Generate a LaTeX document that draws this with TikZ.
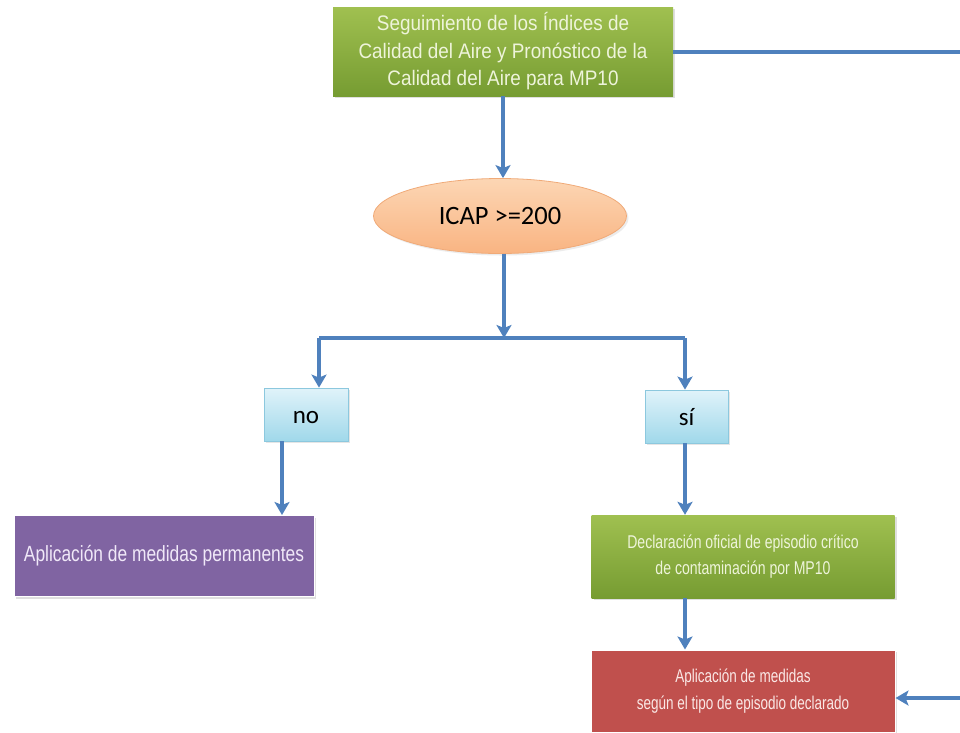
\documentclass[tikz,border=0pt]{standalone}
\usepackage{fontspec}
\setmainfont{Liberation Sans}
\newfontfamily\carlitofont{Carlito}
\newfontfamily\narrowA[FakeStretch=0.9]{Liberation Sans}
\newfontfamily\narrowB[FakeStretch=0.79]{Liberation Sans}
\newfontfamily\narrowC[FakeStretch=0.76]{Liberation Sans}
\newfontfamily\narrowD[FakeStretch=0.73]{Liberation Sans}
\usetikzlibrary{arrows.meta,shapes.geometric,shadows,calc}
\definecolor{arrblue}{RGB}{79,129,189}
\definecolor{gtop}{RGB}{160,192,80}
\definecolor{gbot}{RGB}{118,156,50}
\definecolor{gtext}{RGB}{238,244,218}
\definecolor{purp}{RGB}{128,100,162}
\definecolor{ptext}{RGB}{240,232,248}
\definecolor{redb}{RGB}{192,80,77}
\definecolor{rtext}{RGB}{250,232,230}
\definecolor{btop}{RGB}{224,243,250}
\definecolor{bbot}{RGB}{160,216,234}
\definecolor{bline}{RGB}{140,200,222}
\definecolor{etop}{RGB}{252,214,180}
\definecolor{ebot}{RGB}{249,180,130}
\definecolor{eline}{RGB}{240,170,120}
\tikzset{
  x=1pt,y=-1pt,
  arr/.style={draw=arrblue,line width=3.6pt,-{Stealth[length=13pt,width=15pt,inset=3pt]}},
  ln/.style={draw=arrblue,line width=3.6pt},
  greenbox/.style={rectangle,top color=gtop,bottom color=gbot,draw=none,text=gtext,align=center,
    inner sep=0pt,drop shadow={opacity=0.25,shadow xshift=2pt,shadow yshift=-2pt}},
  bluebox/.style={rectangle,top color=btop,bottom color=bbot,draw=bline,line width=0.8pt,
    minimum width=84pt,minimum height=53pt,font=\carlitofont\fontsize{25}{28}\selectfont,
    text height=17pt,text depth=0pt,
    drop shadow={opacity=0.2,shadow xshift=2pt,shadow yshift=-2pt}},
  flatbox/.style={rectangle,draw=white,line width=1pt,align=center,inner sep=0pt,
    drop shadow={opacity=0.25,shadow xshift=2pt,shadow yshift=-2pt}}
}
\begin{document}
\begin{tikzpicture}
\useasboundingbox (0,0) rectangle (960,732);
\clip (0,0) rectangle (960,732);
\fill[white] (0,0) rectangle (960,732);

\node[greenbox,minimum width=340pt,minimum height=89pt,
  font=\narrowA\fontsize{21}{27.5}\selectfont] (top) at (503,51.5)
  {Seguimiento de los Índices de\\Calidad del Aire y Pronóstico de la\\Calidad del Aire para MP10};

\node[ellipse,top color=etop,bottom color=ebot,draw=eline,line width=0.8pt,
  minimum width=253pt,minimum height=75pt,inner sep=0pt,
  font=\carlitofont\fontsize{26.5}{30}\selectfont,
  drop shadow={opacity=0.15,shadow xshift=2pt,shadow yshift=-2pt}] (ell) at (500,216) {ICAP >=200};

\node[bluebox] (no) at (306,414.5) {no};
\node[bluebox,minimum width=83pt] (si) at (686.5,416.5) {sí};

\node[flatbox,fill=purp,text=ptext,minimum width=300pt,minimum height=81pt,
  font=\narrowB\fontsize{22}{26}\selectfont] (perm) at (164,556) {Aplicación de medidas permanentes};

\node[greenbox,minimum width=303pt,minimum height=83pt,
  font=\narrowC\fontsize{18.5}{25.5}\selectfont] (decl) at (743,556.5)
  {Declaración oficial de episodio crítico\\de contaminación por MP10};

\node[flatbox,fill=redb,text=rtext,minimum width=304pt,minimum height=82pt,
  font=\narrowD\fontsize{18.5}{26.5}\selectfont] (apl) at (743,691)
  {Aplicación de medidas\\según el tipo de episodio declarado};

\coordinate (split) at (504,338);
\coordinate (sl) at (319,338);
\coordinate (sr) at (685,338);
\coordinate (fb1) at (975,52);
\coordinate (fb2) at (975,698);

\draw[arr] (top.south -| 503,0) -- (ell.north -| 503,0);
\draw[arr] (ell.south -| split) -- (split);
\draw[ln] (sl) -- (sr);
\draw[arr] (sl) -- (sl |- no.north);
\draw[arr] (sr) -- (sr |- si.north);
\draw[arr] (no.south -| 282,0) -- (perm.north -| 282,0);
\draw[arr] (si.south -| 685,0) -- (decl.north -| 685,0);
\draw[arr] (decl.south -| 685,0) -- (apl.north -| 685,0);
\draw[arr] (top.east |- fb1) -- (fb1) -- (fb2) -- (apl.east |- fb2);
\end{tikzpicture}
\end{document}
